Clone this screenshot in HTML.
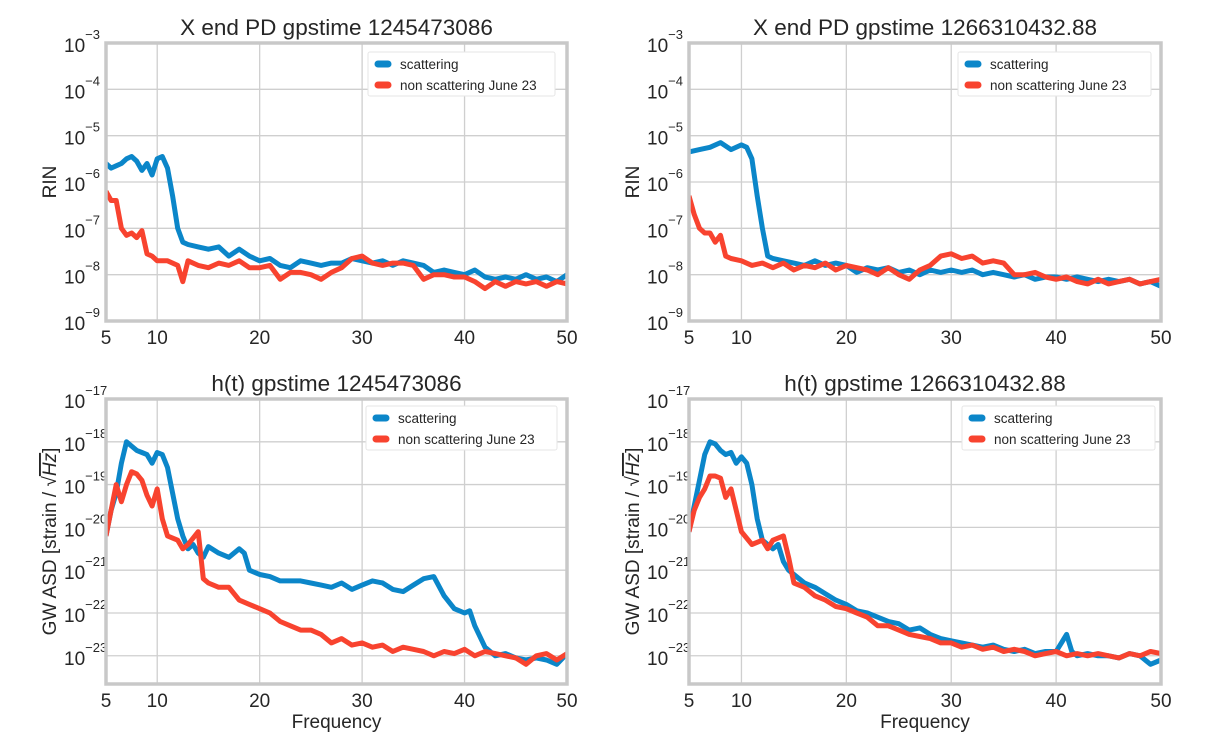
<!DOCTYPE html>
<html><head><meta charset="utf-8"><style>
body{margin:0;background:#fff;}
svg text{font-family:"Liberation Sans",sans-serif;fill:#262626;}
</style></head><body>
<svg id="fig" width="1215" height="746" xmlns="http://www.w3.org/2000/svg"></svg>
<script>
// ---- data (log10 of amplitude) ----
const tlScatF=[5,5.5,6,6.5,7,7.5,8,8.5,9,9.5,10,10.5,11,11.5,12,12.5,13,14,15,16,17,18,19,20,21,22,23,24,25,26,27,28,29,30,31,32,33,34,35,36,37,38,39,40,41,42,43,44,45,46,47,48,49,50];
const tlScatV=[-5.6,-5.7,-5.65,-5.6,-5.5,-5.45,-5.55,-5.75,-5.6,-5.85,-5.5,-5.45,-5.7,-6.3,-7.0,-7.3,-7.35,-7.4,-7.45,-7.4,-7.6,-7.45,-7.6,-7.7,-7.65,-7.8,-7.85,-7.7,-7.75,-7.8,-7.75,-7.75,-7.65,-7.7,-7.75,-7.7,-7.8,-7.7,-7.75,-7.8,-7.95,-7.9,-7.95,-8.0,-7.9,-8.05,-8.1,-8.05,-8.1,-8.0,-8.1,-8.05,-8.15,-8.0];
const tlNonF=[5,5.5,6,6.5,7,7.5,8,8.5,9,9.5,10,11,12,12.5,13,14,15,16,17,18,19,20,21,22,23,24,25,26,27,28,29,30,31,32,33,34,35,36,37,38,39,40,41,42,43,44,45,46,47,48,49,50];
const tlNonV=[-6.2,-6.4,-6.4,-7.0,-7.15,-7.1,-7.2,-7.05,-7.55,-7.6,-7.7,-7.7,-7.8,-8.15,-7.7,-7.8,-7.85,-7.75,-7.8,-7.7,-7.85,-7.85,-7.8,-8.1,-7.95,-7.95,-8.0,-8.1,-7.95,-7.85,-7.65,-7.6,-7.75,-7.8,-7.75,-7.75,-7.8,-8.1,-8.0,-8.0,-8.05,-8.05,-8.15,-8.3,-8.15,-8.25,-8.15,-8.2,-8.15,-8.25,-8.15,-8.2];
const trScatF=[5,6,7,8,9,10,10.5,11,11.5,12,12.5,13,14,15,16,17,18,19,20,21,22,23,24,25,26,27,28,29,30,31,32,33,34,35,36,37,38,39,40,41,42,43,44,45,46,47,48,49,50];
const trScatV=[-5.35,-5.3,-5.25,-5.15,-5.3,-5.2,-5.25,-5.5,-6.3,-7.0,-7.6,-7.65,-7.7,-7.75,-7.8,-7.7,-7.8,-7.75,-7.8,-7.95,-7.85,-7.9,-7.85,-7.95,-7.9,-8.0,-7.9,-7.95,-7.9,-7.95,-7.9,-8.0,-7.95,-8.0,-8.05,-8.0,-8.1,-8.05,-8.05,-8.1,-8.05,-8.1,-8.15,-8.1,-8.15,-8.1,-8.2,-8.15,-8.25];
const trNonF=[5,5.5,6,6.5,7,7.5,8,8.5,9,10,11,12,13,14,15,16,17,18,19,20,21,22,23,24,25,26,27,28,29,30,31,32,33,34,35,36,37,38,39,40,41,42,43,44,45,46,47,48,49,50];
const trNonV=[-6.3,-6.7,-7.0,-7.1,-7.1,-7.3,-7.15,-7.6,-7.65,-7.7,-7.8,-7.75,-7.85,-7.75,-7.9,-7.8,-7.85,-7.75,-7.9,-7.8,-7.85,-7.9,-8.0,-7.85,-8.0,-8.1,-7.9,-7.8,-7.6,-7.55,-7.65,-7.6,-7.75,-7.7,-7.75,-8.0,-8.0,-7.95,-8.05,-8.1,-8.05,-8.15,-8.2,-8.1,-8.2,-8.15,-8.1,-8.2,-8.15,-8.1];
const blScatF=[5,5.5,6,6.5,7,7.5,8,8.5,9,9.5,10,10.5,11,11.5,12,12.5,13,13.5,14,14.5,15,16,17,18,18.5,19,20,21,22,23,24,25,26,27,28,29,30,31,32,33,34,35,36,37,38,39,40,40.5,41,42,43,44,45,46,47,48,49,50];
const blScatV=[-20.2,-19.6,-19.2,-18.5,-18.0,-18.1,-18.2,-18.25,-18.3,-18.5,-18.25,-18.3,-18.6,-19.2,-19.8,-20.2,-20.5,-20.4,-20.6,-20.7,-20.45,-20.6,-20.7,-20.5,-20.6,-21.0,-21.1,-21.15,-21.25,-21.25,-21.25,-21.3,-21.35,-21.4,-21.3,-21.45,-21.35,-21.25,-21.3,-21.45,-21.5,-21.35,-21.2,-21.15,-21.6,-21.9,-22.0,-21.95,-22.3,-22.8,-23.0,-22.95,-23.05,-23.1,-23.05,-23.1,-23.2,-22.95];
const blNonF=[5,5.5,6,6.5,7,7.5,8,8.5,9,9.5,10,10.5,11,12,12.5,13,14,14.5,15,16,17,18,19,20,21,22,23,24,25,26,27,28,29,30,31,32,33,34,35,36,37,38,39,40,41,42,43,44,45,46,47,48,49,50];
const blNonV=[-20.2,-19.6,-19.0,-19.4,-19.0,-18.7,-18.75,-18.9,-19.25,-19.5,-19.1,-19.8,-20.2,-20.3,-20.5,-20.4,-20.1,-21.2,-21.3,-21.4,-21.4,-21.7,-21.8,-21.9,-22.0,-22.2,-22.3,-22.4,-22.4,-22.5,-22.7,-22.6,-22.75,-22.7,-22.8,-22.75,-22.9,-22.8,-22.85,-22.9,-23.0,-22.9,-22.95,-22.85,-23.0,-22.9,-22.95,-23.0,-23.05,-23.2,-23.0,-22.95,-23.1,-22.95];
const brScatF=[5,5.5,6,6.5,7,7.5,8,8.5,9,9.5,10,10.5,11,11.5,12,13,13.5,14,14.5,15,16,17,18,19,20,21,22,23,24,25,26,27,28,29,30,31,32,33,34,35,36,37,38,39,40,40.5,41,41.5,42,43,44,45,46,47,48,49,50];
const brScatV=[-20.1,-19.5,-18.9,-18.3,-18.0,-18.05,-18.2,-18.3,-18.25,-18.5,-18.35,-18.5,-19.0,-19.8,-20.3,-20.5,-20.4,-20.8,-21.0,-21.1,-21.3,-21.4,-21.55,-21.7,-21.8,-21.95,-22.0,-22.1,-22.2,-22.25,-22.4,-22.35,-22.5,-22.6,-22.65,-22.7,-22.75,-22.8,-22.75,-22.85,-22.9,-22.85,-22.95,-22.9,-22.9,-22.7,-22.5,-22.9,-23.0,-22.95,-23.0,-23.0,-23.05,-22.95,-23.0,-23.2,-23.1];
const brNonF=[5,5.5,6,6.5,7,7.5,8,8.5,9,9.5,10,11,12,12.5,13,14,14.5,15,16,17,18,19,20,21,22,23,24,25,26,27,28,29,30,31,32,33,34,35,36,37,38,39,40,41,42,43,44,45,46,47,48,49,50];
const brNonV=[-20.1,-19.6,-19.3,-19.1,-18.8,-18.8,-18.85,-19.3,-19.1,-19.6,-20.1,-20.4,-20.3,-20.5,-20.3,-20.2,-20.7,-21.3,-21.4,-21.6,-21.7,-21.85,-21.9,-22.0,-22.1,-22.3,-22.3,-22.4,-22.5,-22.55,-22.6,-22.7,-22.7,-22.8,-22.75,-22.85,-22.8,-22.9,-22.85,-22.9,-23.0,-22.95,-22.9,-23.0,-22.95,-23.0,-22.95,-23.0,-23.05,-22.95,-23.0,-22.9,-22.95];
const xTicks=[5,10,20,30,40,50];
const topYTicks=[-3,-4,-5,-6,-7,-8,-9];
const botYTicks=[-17,-18,-19,-20,-21,-22,-23];
const titles=["X end PD  gpstime 1245473086","X end PD  gpstime 1266310432.88","h(t) gpstime 1245473086","h(t) gpstime 1266310432.88"];
const legendLabels=["scattering","non scattering June 23"];

const NS="http://www.w3.org/2000/svg";
const svg=document.getElementById('fig');
function mk(tag,attrs,parent){const e=document.createElementNS(NS,tag);for(const k in attrs)e.setAttribute(k,attrs[k]);(parent||svg).appendChild(e);return e;}
const BLUE="#0b86c9",RED="#f8432f";

function panel(id,L,R,T,B,ymax,ymin,yTicks,title,sF,sV,nF,nV,ylabel,xlabel,leg){
  const g=mk('g',{});
  
  
  const xs=f=>L+(f-5)/45*(R-L);
  const ys=v=>T+(ymax-v)/(ymax-ymin)*(B-T);
  xTicks.forEach(t=>{
    const l=mk('line',{x1:xs(t),x2:xs(t),y1:T,y2:B,stroke:'#cfcfcf','stroke-width':1.3},g);
    
    const tx=mk('text',{x:xs(t),y:B+23,'font-size':19,'text-anchor':'middle'},g);tx.textContent=t;
    
  });
  yTicks.forEach(t=>{
    const y=ys(t);
    const l=mk('line',{x1:L,x2:R,y1:y,y2:y,stroke:'#cfcfcf','stroke-width':1.3},g);
    
    const tx=mk('text',{x:L-42,y:y+9,'font-size':19},g);
    
    tx.textContent='10';
    const s=mk('tspan',{dy:-13,'font-size':13},tx);s.textContent='\u2212'+(-t);
  });
  const clip=mk('clipPath',{id:'c'+id},g);mk('rect',{x:L,y:T,width:R-L,height:B-T},clip);
  [[sF,sV,BLUE,'scattering-line'],[nF,nV,RED,'non-scattering-line']].forEach(([F,V,c,n])=>{
    const p=mk('polyline',{points:F.map((f,i)=>xs(f).toFixed(1)+','+ys(V[i]).toFixed(1)).join(' '),fill:'none',stroke:c,'stroke-width':5,'stroke-linejoin':'round','clip-path':'url(#c'+id+')'},g);
    
  });
  const fr=mk('rect',{x:L,y:T,width:R-L,height:B-T,fill:'none',stroke:'#c8c8c8','stroke-width':3.5},g);
  
  const tt=mk('text',{x:(L+R)/2,y:T-8,'font-size':22.5,'text-anchor':'middle'},g);tt.textContent=title;
  
  const lg=mk('g',{},g);
  
  mk('rect',{x:leg[0],y:leg[1],width:leg[2],height:44,fill:'#fff',stroke:'#e6e6e6','stroke-width':1,rx:2},lg);
  [[BLUE,legendLabels[0]],[RED,legendLabels[1]]].forEach(([c,lab],i)=>{
    const yy=leg[1]+12+i*21;
    const ln=mk('line',{x1:leg[0]+10,x2:leg[0]+20,y1:yy,y2:yy,stroke:c,'stroke-width':7,'stroke-linecap':'round'},lg);
    
    const t=mk('text',{x:leg[0]+32,y:yy+5,'font-size':13.5},lg);t.textContent=lab;
    
  });
  if(ylabel){
    const yl=mk('text',{x:0,y:0,'font-size':19,'text-anchor':'middle',transform:`translate(${L-50},${(T+B)/2}) rotate(-90)`},g);
    
    if(ylabel==='RIN'){yl.textContent='RIN';}
    else{yl.textContent='GW ASD [strain / \u221A';const s=mk('tspan',{'font-style':'italic','text-decoration':'overline'},yl);s.textContent='Hz';const s2=mk('tspan',{},yl);s2.textContent=']';}
  }
  if(xlabel){
    const xl=mk('text',{x:(L+R)/2,y:B+44,'font-size':19,'text-anchor':'middle'},g);xl.textContent='Frequency';
    
  }
}
panel('panel-top-left',106,567,43,321,-3,-9,topYTicks,titles[0],tlScatF,tlScatV,tlNonF,tlNonV,'RIN',false,[368,52,187]);
panel('panel-top-right',689,1161,43,321,-3,-9,topYTicks,titles[1],trScatF,trScatV,trNonF,trNonV,'RIN',false,[958,52,193]);
panel('panel-bottom-left',106,567,399,684,-17,-23.66,botYTicks,titles[2],blScatF,blScatV,blNonF,blNonV,'GW',true,[366,406,191]);
panel('panel-bottom-right',689,1161,399,684,-17,-23.66,botYTicks,titles[3],brScatF,brScatV,brNonF,brNonV,'GW',true,[962,406,193]);
</script>
</body></html>
